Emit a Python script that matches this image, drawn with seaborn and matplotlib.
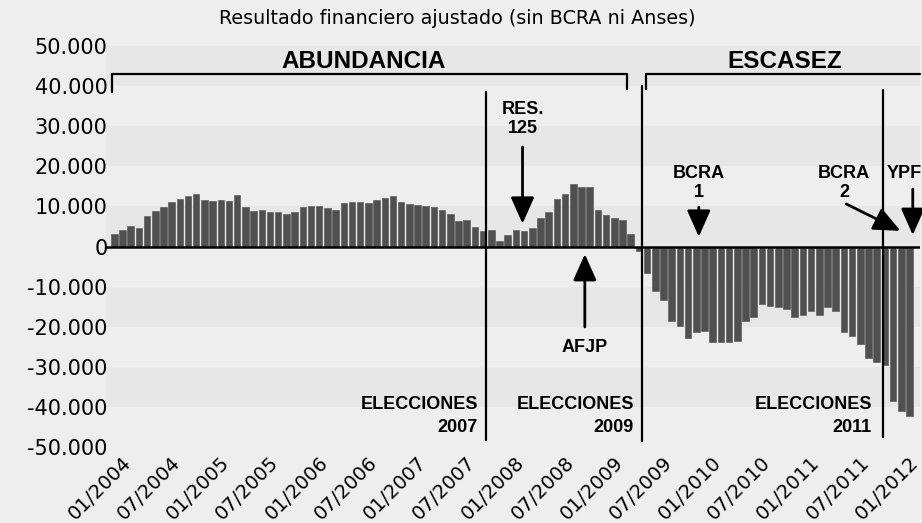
import matplotlib
matplotlib.use("Agg")
import matplotlib.pyplot as plt
import matplotlib.transforms as mtrans
import seaborn as sns
import pandas as pd

# meses 01/2004 .. 02/2012
anios = list(range(2004, 2013))
meses = [f"{m:02d}/{a}" for a in anios for m in range(1, 13)][:98]

# resultado financiero ajustado (millones de pesos)
resultado = [
    3000, 4100, 5100, 4600, 7600, 8800, 9900, 11200, 11800, 12700, 13200, 11500,
    11400, 11700, 11400, 12800, 9900, 8800, 9200, 8700, 8700, 8200, 8700, 9900,
    10100, 10000, 9600, 9000, 10800, 11200, 11200, 10900, 11500, 12000, 12700, 11200,
    10500, 10400, 10000, 9800, 9200, 8200, 6300, 6700, 4800, 3800, 4000, 1300,
    2800, 4100, 3800, 4600, 7200, 8600, 11900, 13200, 15500, 14800, 14800, 9200,
    7900, 7200, 6500, 3200, -1000, -6700, -11200, -13300, -18500, -19700, -22700, -21200,
    -21000, -23700, -23700, -23900, -23500, -18500, -17500, -14300, -14800, -15000, -15600, -17500,
    -17200, -16000, -17000, -15200, -16000, -21400, -22200, -24300, -27700, -28700, -29500, -38500,
    -41000, -42200,
]

yticks = list(range(-50000, 50001, 10000))
ytick_labels = [f"{v:,}".replace(",", ".") for v in yticks]
xtick_pos = list(range(0, 97, 6))

df = pd.DataFrame({"mes": meses, "resultado": resultado})

sns.set_theme(style="white")
plt.rcParams["font.family"] = ["DejaVu Sans"]

paper = "#eeeeee"
fig = plt.figure(figsize=(9.22, 5.23), dpi=100, facecolor=paper)
ax = fig.add_axes([0.115, 0.1453, 0.883, 0.7667])
ax.set_facecolor(paper)

# bandas horizontales suaves del fondo
for k, y0 in enumerate(range(-50000, 50000, 10000)):
    if k % 2:
        ax.axhspan(y0, y0 + 10000, color="#e7e7e7", lw=0, zorder=0)

sns.barplot(data=df, x="mes", y="resultado", color="#505050", saturation=1,
            width=0.8, errorbar=None, ax=ax, zorder=2,
            edgecolor="#505050", linewidth=0.4)

ax.axhline(0, color="black", lw=1.8, zorder=3)
ax.set_xlim(-1.0, 98.3)
ax.set_ylim(-50000, 50000)
ax.set_xlabel("")
ax.set_ylabel("")
for s in ax.spines.values():
    s.set_visible(False)

ax.set_yticks(yticks, labels=ytick_labels)
ax.tick_params(axis="y", length=0, pad=-1, labelsize=15, labelcolor="black")
ax.set_xticks(xtick_pos, labels=[meses[i] for i in xtick_pos])
ax.tick_params(axis="x", length=0, pad=9, labelsize=14, labelcolor="black")
off = mtrans.ScaledTranslation(14 / 100, 0, fig.dpi_scale_trans)
for lab in ax.get_xticklabels():
    lab.set_rotation(45)
    lab.set_ha("right")
    lab.set_va("center")
    lab.set_rotation_mode("anchor")
    lab.set_transform(lab.get_transform() + off)

fig.text(457 / 922, 1 - 18 / 523, "Resultado financiero ajustado (sin BCRA ni Anses)",
         ha="center", va="center", fontsize=13.8, color="black")

bold = dict(family=["Liberation Sans", "DejaVu Sans"], fontweight="bold", color="black")

# llaves de periodos
ax.plot([-0.3, -0.3, 62.6, 62.6], [38500, 43000, 43000, 39250], color="black", lw=1.6, clip_on=False, zorder=4)
ax.plot([64.9, 64.9, 98.3], [39250, 43000, 43000], color="black", lw=1.6, clip_on=False, zorder=4)
ax.text(30.4, 46250, "ABUNDANCIA", ha="center", va="center", fontsize=17.5, **bold)
ax.text(81.8, 46250, "ESCASEZ", ha="center", va="center", fontsize=17.5, **bold)

# elecciones
ax.plot([45.3, 45.3], [38500, -48250], color="black", lw=1.6, zorder=4)
ax.plot([64.4, 64.4], [40000, -48500], color="black", lw=1.6, zorder=4)
ax.plot([93.8, 93.8], [39000, -47500], color="black", lw=1.6, zorder=4)
for xr, anio in [(44.35, "2007"), (63.4, "2009"), (92.4, "2011")]:
    ax.text(xr, -39500, "ELECCIONES", ha="right", va="center", fontsize=13, **bold)
    ax.text(xr, -45250, anio, ha="right", va="center", fontsize=13, **bold)

arrow = dict(arrowstyle="-|>,head_width=0.4,head_length=0.9", color="black", lw=2, mutation_scale=18)

ax.text(49.8, 34250, "RES.", ha="center", va="center", fontsize=13, **bold)
ax.text(49.8, 29500, "125", ha="center", va="center", fontsize=13, **bold)
ax.annotate("", xy=(49.8, 5000), xytext=(49.8, 25500), arrowprops=arrow, zorder=5)

ax.text(57.4, -25250, "AFJP", ha="center", va="center", fontsize=13, **bold)
ax.annotate("", xy=(57.4, -1200), xytext=(57.4, -20750), arrowprops=arrow, zorder=5)

ax.text(71.3, 18200, "BCRA", ha="center", va="center", fontsize=13, **bold)
ax.text(71.3, 13400, "1", ha="center", va="center", fontsize=13, **bold)
ax.annotate("", xy=(71.3, 1750), xytext=(71.3, 10500), arrowprops=arrow, zorder=5)

ax.text(89.0, 18200, "BCRA", ha="center", va="center", fontsize=13, **bold)
ax.text(89.0, 13400, "2", ha="center", va="center", fontsize=13, **bold)
ax.annotate("", xy=(96.2, 3600), xytext=(89.0, 10900), arrowprops=arrow, zorder=5)

ax.text(96.3, 18200, "YPF", ha="center", va="center", fontsize=13, clip_on=False, **bold)
ax.annotate("", xy=(97.4, 2200), xytext=(97.4, 15000), arrowprops=arrow, zorder=5)

fig.savefig("out.png", dpi=100, facecolor=paper)
